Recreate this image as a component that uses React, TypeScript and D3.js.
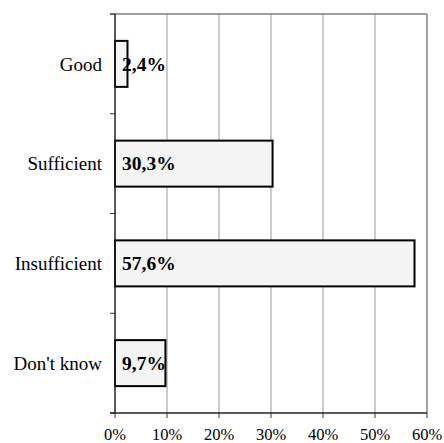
import React from "react";
import * as d3 from "d3";

const categories = ["Good", "Sufficient", "Insufficient", "Don't know"];
const values = [2.4, 30.3, 57.6, 9.7];
const valueLabels = ["2,4%", "30,3%", "57,6%", "9,7%"];
const xTicks = [0, 10, 20, 30, 40, 50, 60];

const W = 444;
const H = 443;
const margin = { top: 14, right: 17, bottom: 30, left: 115 };
const FONT = "'Liberation Serif', 'Times New Roman', serif";

export default function App() {
  const x = d3.scaleLinear().domain([0, 60]).range([margin.left, W - margin.right]);
  const y = d3
    .scaleBand<string>()
    .domain(categories)
    .range([margin.top, H - margin.bottom])
    .padding(0);
  const barH = 46;
  const x0 = x(0);
  const yTop = margin.top;
  const yBot = H - margin.bottom;

  // category boundaries for the left tick marks
  const catTicks = [yTop, ...categories.map((c) => (y(c) as number) + y.bandwidth())];

  return (
    <svg
      width={W}
      height={H}
      style={{ position: "absolute", left: 0, top: 0 }}
      fontFamily={FONT}
    >
      <rect width={W} height={H} fill="#fff" />
      {/* vertical gridlines */}
      {xTicks.slice(1).map((t) => (
        <line
          key={t}
          x1={x(t)}
          x2={x(t)}
          y1={yTop}
          y2={yBot}
          stroke={t === 60 ? "#808080" : "#999"}
          strokeWidth={t === 60 ? 1.5 : 1}
        />
      ))}
      {/* top border */}
      <line x1={x0 - 5} x2={x(60)} y1={yTop} y2={yTop} stroke="#808080" strokeWidth={1.5} />
      {/* bars */}
      {categories.map((c, i) => {
        const cy = (y(c) as number) + y.bandwidth() / 2;
        return (
          <g key={c}>
            <rect
              x={x0}
              y={cy - barH / 2}
              width={x(values[i]) - x0}
              height={barH}
              fill="#f4f4f4"
              stroke="#000"
              strokeWidth={2}
            />
            <text
              x={x0 + 7}
              y={cy}
              dy="0.35em"
              fontSize={19.5}
              fontWeight="bold"
              fill="#000"
            >
              {valueLabels[i]}
            </text>
            <text
              x={x0 - 13}
              y={cy}
              dy="0.35em"
              textAnchor="end"
              fontSize={19}
              fill="#000"
            >
              {c}
            </text>
          </g>
        );
      })}
      {/* left axis */}
      <line x1={x0} x2={x0} y1={yTop} y2={yBot} stroke="#222" strokeWidth={1.5} />
      {catTicks.map((t, i) => (
        <line key={i} x1={x0 - 5} x2={x0} y1={t} y2={t} stroke="#333" strokeWidth={1} />
      ))}
      {/* bottom axis */}
      <line x1={x0 - 5} x2={x(60)} y1={yBot} y2={yBot} stroke="#222" strokeWidth={1.5} />
      {xTicks.map((t) => (
        <g key={t}>
          <line x1={x(t)} x2={x(t)} y1={yBot} y2={yBot + 5} stroke="#333" strokeWidth={1} />
          <text
            x={x(t)}
            y={yBot + 21}
            dy="0.35em"
            textAnchor="middle"
            fontSize={16.5}
            fill="#000"
          >
            {t}%
          </text>
        </g>
      ))}
    </svg>
  );
}
